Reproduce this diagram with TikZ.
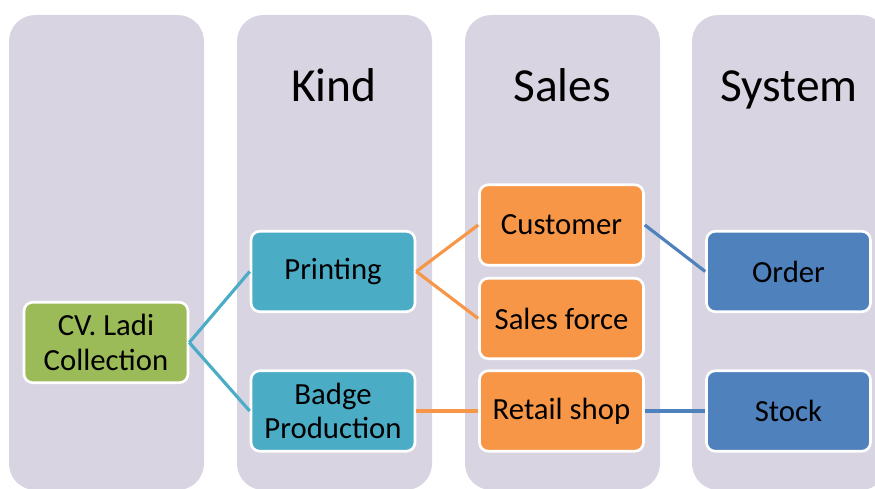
\documentclass[tikz,border=0pt]{standalone}
\usepackage{fontspec}
\setmainfont{Carlito}
\usetikzlibrary{positioning}
\definecolor{Lavender}{RGB}{216,212,226}
\definecolor{LeafGreen}{RGB}{155,187,89}
\definecolor{SeaTeal}{RGB}{75,172,198}
\definecolor{Tangerine}{RGB}{247,150,70}
\definecolor{SteelBlue}{RGB}{79,129,189}

\begin{document}
\begin{tikzpicture}
  [x=0.02cm,y=-0.02cm,
   lane/.style={fill=Lavender,rounded corners=15},
   box/.style={rectangle,rounded corners=5,draw=white,line width=1.5pt,
     minimum width=3.28cm,minimum height=1.61cm,align=center,
     font=\fontsize{17.5}{19.5}\selectfont,inner sep=0pt},
   head/.style={font=\fontsize{27}{30}\selectfont,anchor=base},
   link/.style={line width=1.8pt}]
  \useasboundingbox (0,0) rectangle (875,489);
  % lanes
  \fill[lane] (9,15) rectangle (204,490);
  \fill[lane] (237,15) rectangle (432,490);
  \fill[lane] (465,15) rectangle (660,490);
  \fill[lane] (692,15) rectangle (887,490);

  \node (hkind) [head] at (334,102) {Kind};
  \node (hsales) [head] at (562,102) {Sales};
  \node (hsys) [head] at (789,102) {System};

  \node (ncv) [box,fill=LeafGreen] at (106,342.5) {CV. Ladi\\Collection};
  \node (nprint) [box,fill=SeaTeal] at (333,271.5) {Printing};
  \node (nbadge) [box,fill=SeaTeal] at (333,411) {Badge\\Production};
  \node (ncust) [box,fill=Tangerine] at (561.5,225) {Customer};
  \node (nforce) [box,fill=Tangerine] at (561.5,318.5) {Sales force};
  \node (nretail) [box,fill=Tangerine] at (561.5,411) {Retail shop};
  \node (norder) [box,fill=SteelBlue] at (788.5,271.5) {Order};
  \node (nstock) [box,fill=SteelBlue] at (788.5,411) {Stock};

  \path[link,draw=SeaTeal]
  (ncv.east) edge (nprint.west)
  (ncv.east) edge (nbadge.west);
  \path[link,draw=Tangerine]
  (nprint.east) edge (ncust.west)
  (nprint.east) edge (nforce.west)
  (nbadge.east) edge (nretail.west);
  \path[link,draw=SteelBlue]
  (ncust.east) edge (norder.west)
  (nretail.east) edge (nstock.west);
\end{tikzpicture}
\end{document}
